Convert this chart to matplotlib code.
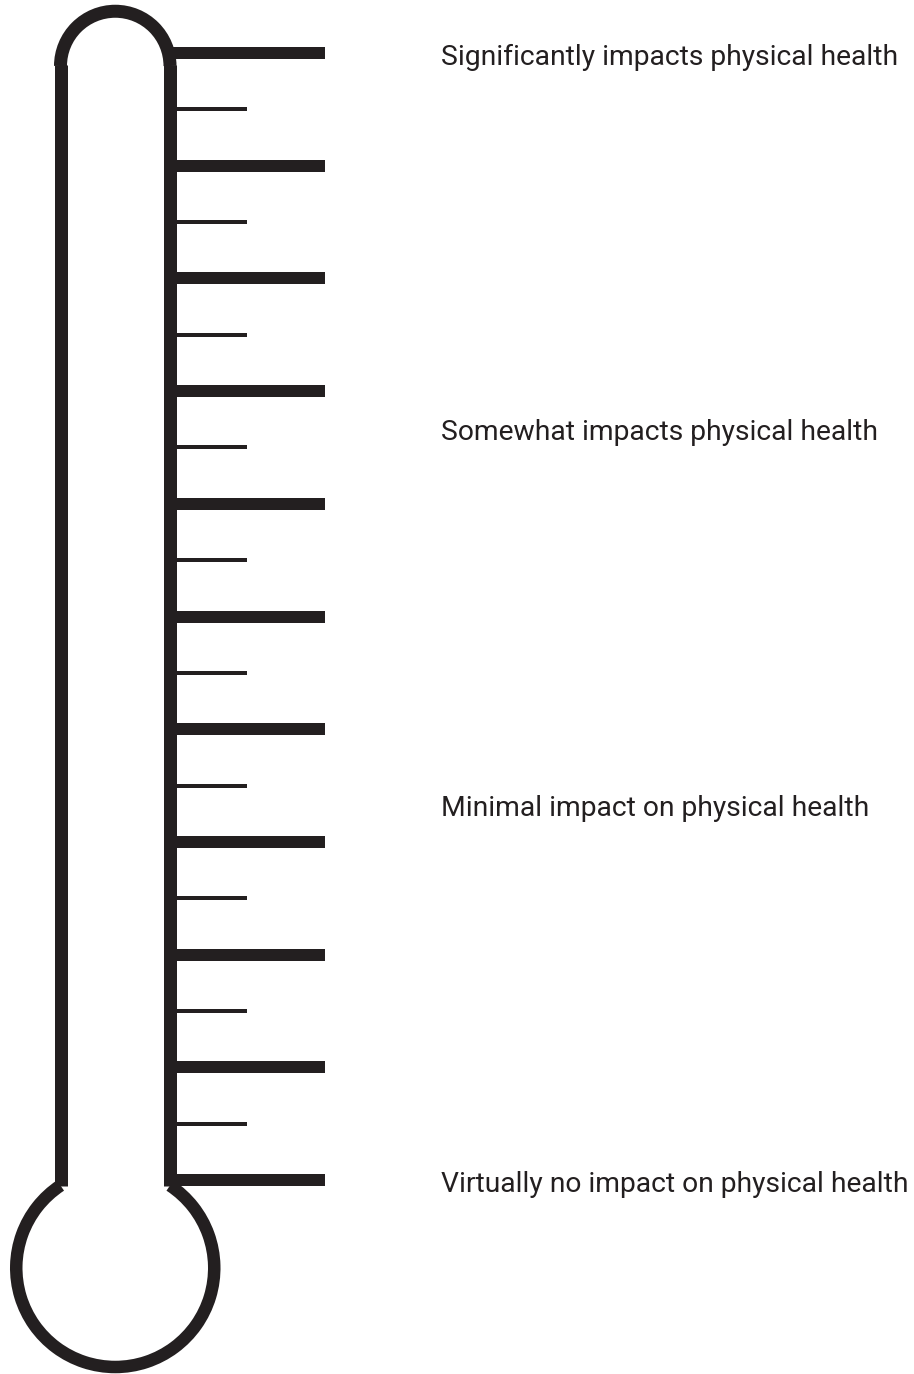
import matplotlib
matplotlib.use("Agg")
import matplotlib.pyplot as plt
from matplotlib.patches import Arc
import numpy as np

# ---- data ----
major_levels = list(range(0, 11))                  # 11 major tick marks
minor_levels = [i + 0.5 for i in range(0, 10)]     # 10 minor tick marks
labels = ["Virtually no impact on physical health",
          "Minimal impact on physical health",
          "Somewhat impacts physical health",
          "Significantly impacts physical health"]
label_levels = [0, 10 / 3, 20 / 3, 10]

# ---- style ----
INK = "#231f20"
W, H = 914, 1374
DPI = 100
px = 72.0 / DPI  # points per pixel

fig = plt.figure(figsize=(W / DPI, H / DPI), dpi=DPI)
ax = fig.add_axes([0, 0, 1, 1])
ax.set_xlim(0, W)
ax.set_ylim(0, H)
ax.set_aspect("equal")
ax.axis("off")

# scale: level -> y (pixel, y up)
y_bottom_tick = H - 1180
y_top_tick = H - 53
def ly(v):
    return y_bottom_tick + (y_top_tick - y_bottom_tick) * v / 10.0

# tube
xl, xr = 60.5, 170.0
xc = (xl + xr) / 2
r_top = (xr - xl) / 2
top_cy = H - 66
tube_lw = 13 * px
bulb_c = (xc, H - 1268)
bulb_r = 99
dx = xr - xc
join_y = bulb_c[1] + np.sqrt(bulb_r ** 2 - dx ** 2)
ang = np.degrees(np.arctan2(join_y - bulb_c[1], dx))

ax.plot([xl, xl], [join_y, top_cy + 1.5], color=INK, lw=tube_lw, solid_capstyle="butt")
ax.plot([xr, xr], [join_y, top_cy + 1.5], color=INK, lw=tube_lw, solid_capstyle="butt")
ax.add_patch(Arc((xc, top_cy), 2 * r_top, 2 * r_top, theta1=0, theta2=180,
                 color=INK, lw=tube_lw))
ax.add_patch(Arc(bulb_c, 2 * bulb_r, 2 * bulb_r, theta1=180 - ang, theta2=360 + ang,
                 color=INK, lw=12.5 * px))

# ticks
for v in major_levels:
    ax.plot([xr, 325], [ly(v), ly(v)], color=INK, lw=12 * px, solid_capstyle="butt")
for v in minor_levels:
    ax.plot([xr, 247], [ly(v), ly(v)], color=INK, lw=4 * px, solid_capstyle="butt")

# labels
for t, v in zip(labels, label_levels):
    ax.text(441, ly(v) - 11.7, t, color=INK, fontsize=20.3, family="Roboto",
            ha="left", va="baseline")

fig.savefig("out.png", dpi=DPI, facecolor="white")
